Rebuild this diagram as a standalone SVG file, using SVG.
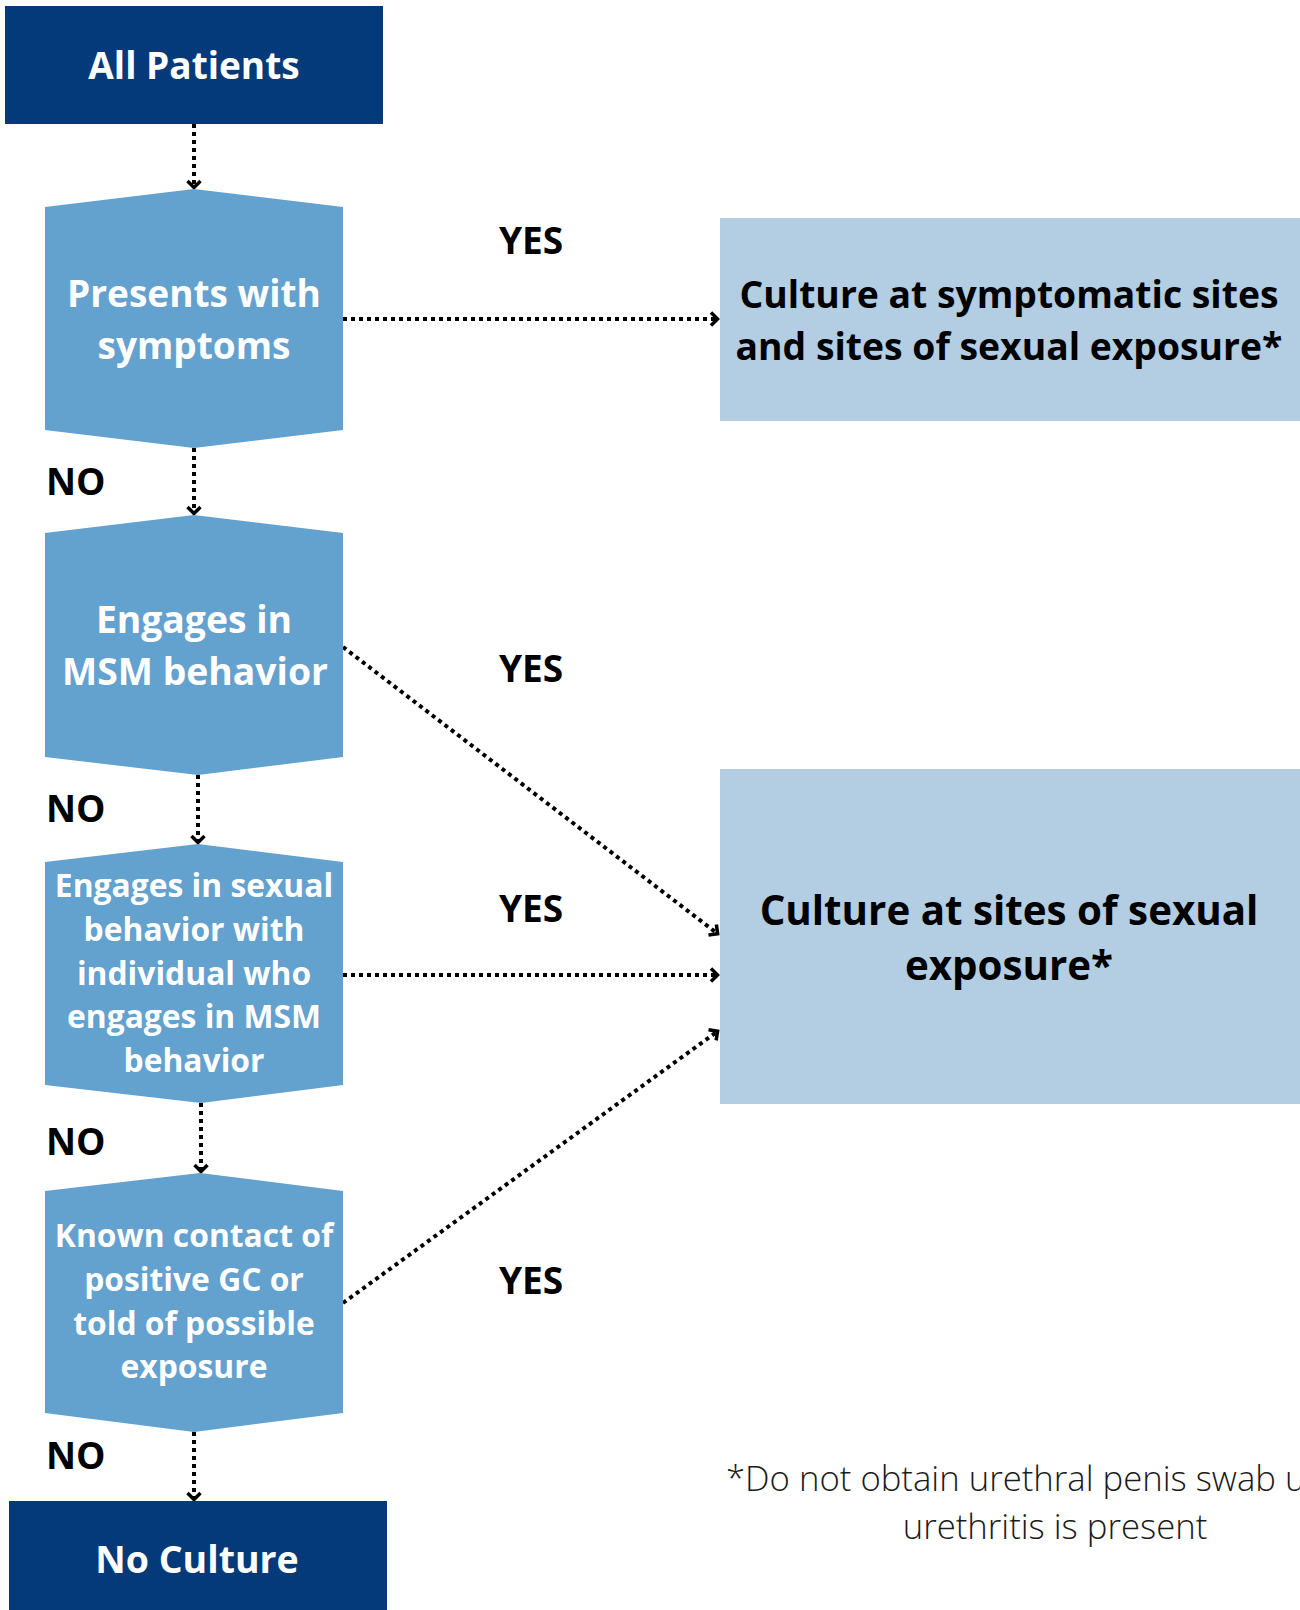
<svg xmlns="http://www.w3.org/2000/svg" width="1300" height="1610" viewBox="0 0 1300 1610">
  <style>
    .t { font-family: "Open Sans", "Noto Sans", "Liberation Sans", sans-serif; font-weight: 700; }
    .w { fill: #ffffff; text-anchor: middle; }
    .k { fill: #000000; }
    .mid { text-anchor: middle; }
    .navy { fill: #043a7a; }
    .hex { fill: #63a1cf; }
    .lite { fill: #b3cde3; }
    .conn { fill: none; stroke: #000000; stroke-width: 4; stroke-dasharray: 4 4; marker-end: url(#chev); }
    .foot { font-family: "Open Sans", "Noto Sans", "Liberation Sans", sans-serif; font-weight: 300; font-size: 34.7px; fill: #1a1a1a; }
  </style>
  <defs>
    <marker id="chev" markerUnits="userSpaceOnUse" markerWidth="20" markerHeight="20" refX="0" refY="0" viewBox="-10 -10 20 20" orient="auto" overflow="visible">
      <path d="M-7,-6.5 L-0.5,0 L-7,6.5" fill="none" stroke="#000000" stroke-width="3.5" stroke-dasharray="none"/>
    </marker>
  </defs>
  <rect width="1300" height="1610" fill="#ffffff"/>

  <g id="connectors">
    <line class="conn" x1="194" y1="124" x2="194" y2="188"/>
    <line class="conn" x1="194" y1="448" x2="194" y2="514"/>
    <line class="conn" x1="198" y1="775" x2="198" y2="843"/>
    <line class="conn" x1="201" y1="1103" x2="201" y2="1172"/>
    <line class="conn" x1="194" y1="1432" x2="194" y2="1500"/>
    <line class="conn" x1="343" y1="319" x2="718" y2="319"/>
    <line class="conn" x1="343" y1="975" x2="718" y2="975"/>
    <line class="conn" x1="343" y1="647" x2="718" y2="934"/>
    <line class="conn" x1="343" y1="1303" x2="718" y2="1031"/>
  </g>

  <g id="labels">
    <text class="t k mid" x="531" y="254" font-size="37">YES</text>
    <text class="t k mid" x="531" y="682" font-size="37">YES</text>
    <text class="t k mid" x="531" y="922" font-size="37">YES</text>
    <text class="t k mid" x="531" y="1294" font-size="37">YES</text>
    <text class="t k" x="46" y="495" font-size="37">NO</text>
    <text class="t k" x="46" y="822" font-size="37">NO</text>
    <text class="t k" x="46" y="1155" font-size="37">NO</text>
    <text class="t k" x="46" y="1469" font-size="37">NO</text>
  </g>

  <g id="all-patients">
    <rect class="navy" x="5" y="6" width="378" height="118"/>
    <text class="t w" x="194" y="79" font-size="37">All Patients</text>
  </g>

  <g id="presents-with-symptoms">
    <polygon class="hex" points="45,207 194,189 343,207 343,430 194,448 45,430"/>
    <text class="t w" x="194" y="307" font-size="37">Presents with</text>
    <text class="t w" x="194" y="359" font-size="37">symptoms</text>
  </g>

  <g id="engages-msm">
    <polygon class="hex" points="45,533 194,515 343,533 343,757 198,775 45,757"/>
    <text class="t w" x="194" y="633" font-size="37.3">Engages in</text>
    <text class="t w" x="195" y="685" font-size="37.3">MSM behavior</text>
  </g>

  <g id="engages-sexual-with-msm">
    <polygon class="hex" points="45,862 198,844 343,862 343,1085 201,1103 45,1085"/>
    <text class="t w" x="194" y="897" font-size="31.8">Engages in sexual</text>
    <text class="t w" x="194" y="941" font-size="31.8">behavior with</text>
    <text class="t w" x="194" y="985" font-size="31.8">individual who</text>
    <text class="t w" x="194" y="1028" font-size="31.8">engages in MSM</text>
    <text class="t w" x="194" y="1072" font-size="31.8">behavior</text>
  </g>

  <g id="known-contact">
    <polygon class="hex" points="45,1191 200,1173 343,1191 343,1413 194,1432 45,1413"/>
    <text class="t w" x="194" y="1247" font-size="31.8">Known contact of</text>
    <text class="t w" x="194" y="1291" font-size="31.8">positive GC or</text>
    <text class="t w" x="194" y="1335" font-size="31.8">told of possible</text>
    <text class="t w" x="194" y="1378" font-size="31.8">exposure</text>
  </g>

  <g id="culture-symptomatic">
    <rect class="lite" x="720" y="218" width="580" height="203"/>
    <text class="t k mid" x="1009" y="308" font-size="37.3">Culture at symptomatic sites</text>
    <text class="t k mid" x="1009" y="360" font-size="37.3">and sites of sexual exposure*</text>
  </g>

  <g id="culture-sexual-exposure">
    <rect class="lite" x="720" y="769" width="580" height="335"/>
    <text class="t k mid" x="1009" y="925" font-size="40.3">Culture at sites of sexual</text>
    <text class="t k mid" x="1009" y="980" font-size="40.3">exposure*</text>
  </g>

  <g id="no-culture">
    <rect class="navy" x="9" y="1501" width="378" height="109"/>
    <text class="t w" x="197" y="1573" font-size="37.5">No Culture</text>
  </g>

  <g id="footnote">
    <text class="foot" x="726" y="1491">*Do not obtain urethral penis swab u</text>
    <text class="foot" x="1055" y="1539" text-anchor="middle">urethritis is present</text>
  </g>
</svg>
